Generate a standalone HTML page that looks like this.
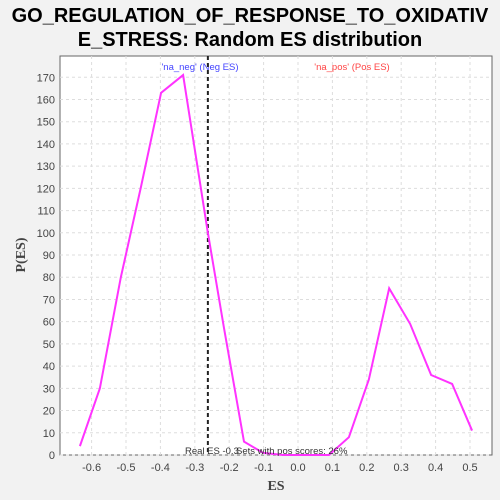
<!DOCTYPE html>
<html><head><meta charset="utf-8"><style>
body{margin:0;background:#f2f2f2;font-family:"Liberation Sans",sans-serif}
svg{display:block}
</style></head><body>
<svg id="c" width="500" height="500" xmlns="http://www.w3.org/2000/svg">
<rect width="500" height="500" fill="#f2f2f2"/>
<text x="250" y="22" text-anchor="middle" font-size="20" font-weight="bold">GO_REGULATION_OF_RESPONSE_TO_OXIDATIV</text>
<text x="250" y="46" text-anchor="middle" font-size="20" font-weight="bold">E_STRESS: Random ES distribution</text>
<rect x="60" y="56" width="432" height="399" fill="#fff" stroke="#666"/>
<g id="grid"></g><g id="ticks"></g>
<text x="276" y="490" text-anchor="middle" font-size="14" font-weight="bold" fill="#444" font-family="Liberation Serif,serif">ES</text>
<text transform="translate(25,255) rotate(-90)" text-anchor="middle" font-size="14" font-weight="bold" fill="#444" font-family="Liberation Serif,serif">P(ES)</text>
<text x="200" y="70" text-anchor="middle" font-size="9.5" fill="#4444ff">'na_neg' (Neg ES)</text>
<text x="352" y="70" text-anchor="middle" font-size="9.5" fill="#ff4444">'na_pos' (Pos ES)</text>
<g id="series"></g>
<text x="185" y="454" font-size="9.5" fill="#333">Real ES -0.3</text>
<text x="236" y="454" font-size="9.5" fill="#333">Sets with pos scores: 26%</text>
</svg>
<script>
const xs=[-0.634,-0.576,-0.515,-0.456,-0.398,-0.334,-0.262,-0.215,-0.157,-0.102,-0.044,0.015,0.09,0.148,0.206,0.265,0.326,0.387,0.448,0.506];
const ys=[4,30,80,121,163,171,100,57,6,1,0,0,0,8,34,75,59,36,32,11];
const xTicks=[-0.6,-0.5,-0.4,-0.3,-0.2,-0.1,0.0,0.1,0.2,0.3,0.4,0.5];
const yTicks=[0,10,20,30,40,50,60,70,80,90,100,110,120,130,140,150,160,170];
const realES=-0.262;
const X=v=>298+v*344, Y=v=>455-v*2.222;
const NS="http://www.w3.org/2000/svg";
function mk(t,a,p){const e=document.createElementNS(NS,t);for(const k in a)e.setAttribute(k,a[k]);p.appendChild(e);return e;}
const g=document.getElementById('grid'),tk=document.getElementById('ticks'),s=document.getElementById('series');
xTicks.forEach(v=>{
 const l=mk('line',{x1:X(v),x2:X(v),y1:56,y2:455,stroke:'#ddd','stroke-dasharray':'3,3'},g);
 
 
 const t=mk('text',{x:X(v),y:471,'text-anchor':'middle','font-size':11,fill:'#444'},tk);
 t.textContent=v.toFixed(1);
 
 
});
yTicks.forEach(v=>{
 const l=mk('line',{x1:60,x2:492,y1:Y(v),y2:Y(v),stroke:'#ddd','stroke-dasharray':'3,3'},g);
 
 
 const t=mk('text',{x:55,y:Y(v)+4,'text-anchor':'end','font-size':11,fill:'#444'},tk);
 t.textContent=v;
 
 
});
const ln=mk('line',{x1:X(realES),x2:X(realES),y1:56,y2:455,stroke:'#222','stroke-width':2,'stroke-dasharray':'4,3'},s);


const pl=mk('polyline',{points:xs.map((x,i)=>X(x)+','+Y(ys[i])).join(' '),fill:'none',stroke:'#ff33ff','stroke-width':2},s);


</script>
</body></html>
